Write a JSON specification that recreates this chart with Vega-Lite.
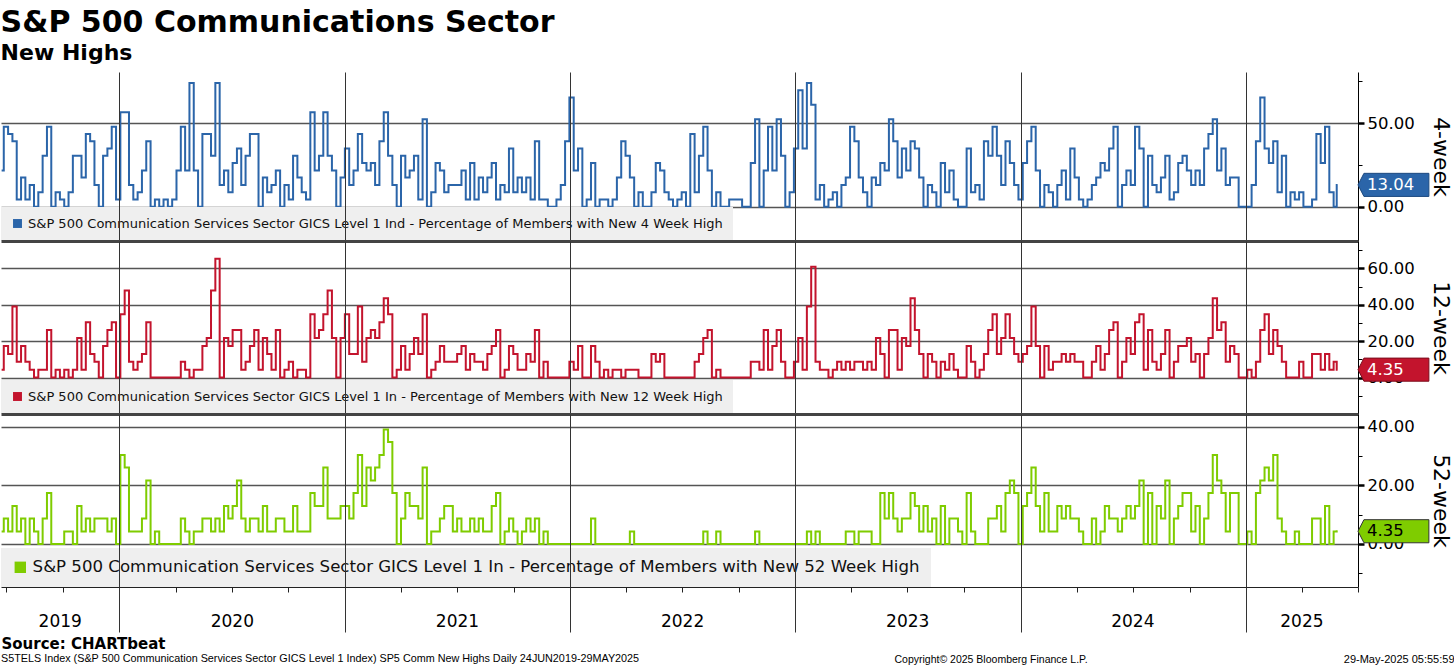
{
"$schema":"https://vega.github.io/schema/vega-lite/v6.json",
"padding":{"top":8,"left":-3,"right":0,"bottom":0},
"background":"white",
"spacing":0,
"bounds":"flush",
"resolve":{"scale":{"color":"independent"},"legend":{"color":"independent"}},
"config":{"view":{"stroke":null},"font":"DejaVu Sans","axis":{"labelFont":"DejaVu Sans","titleFont":"DejaVu Sans"},"legend":{"labelFont":"DejaVu Sans"}},
"datasets":{
"years":[{"y":"2019","m":"2019-09-27"},{"y":"2020","m":"2020-07-02"},{"y":"2021","m":"2021-07-02"},{"y":"2022","m":"2022-07-02"},{"y":"2023","m":"2023-07-02"},{"y":"2024","m":"2024-07-01"},{"y":"2025","m":"2025-04-01"}],
"s":[
{"d":"2019-06-24","a":21.7,"b":4.3,"c":4.3},
{"d":"2019-07-01","a":47.8,"b":17.4,"c":8.7},
{"d":"2019-07-08","a":43.5,"b":13,"c":4.3},
{"d":"2019-07-15","a":39.1,"b":39.1,"c":13},
{"d":"2019-07-22","a":4.3,"b":8.7,"c":4.3},
{"d":"2019-07-29","a":17.4,"b":17.4,"c":8.7},
{"d":"2019-08-05","a":4.3,"b":8.7,"c":0},
{"d":"2019-08-12","a":13,"b":4.3,"c":8.7},
{"d":"2019-08-19","a":0,"b":0,"c":4.3},
{"d":"2019-08-26","a":8.7,"b":4.3,"c":0},
{"d":"2019-09-02","a":30.4,"b":4.3,"c":8.7},
{"d":"2019-09-09","a":47.8,"b":26.1,"c":17.4},
{"d":"2019-09-16","a":0,"b":0,"c":0},
{"d":"2019-09-23","a":8.7,"b":4.3,"c":0},
{"d":"2019-09-30","a":4.3,"b":0,"c":0},
{"d":"2019-10-07","a":0,"b":4.3,"c":4.3},
{"d":"2019-10-14","a":8.7,"b":0,"c":4.3},
{"d":"2019-10-21","a":30.4,"b":4.3,"c":0},
{"d":"2019-10-28","a":30.4,"b":21.7,"c":13},
{"d":"2019-11-04","a":17.4,"b":4.3,"c":4.3},
{"d":"2019-11-11","a":43.5,"b":30.4,"c":8.7},
{"d":"2019-11-18","a":39.1,"b":13,"c":4.3},
{"d":"2019-11-25","a":13,"b":8.7,"c":8.7},
{"d":"2019-12-02","a":0,"b":0,"c":8.7},
{"d":"2019-12-09","a":30.4,"b":17.4,"c":8.7},
{"d":"2019-12-16","a":34.8,"b":26.1,"c":4.3},
{"d":"2019-12-23","a":47.8,"b":30.4,"c":8.7},
{"d":"2019-12-30","a":4.3,"b":0,"c":0},
{"d":"2020-01-06","a":56.5,"b":34.8,"c":30.4},
{"d":"2020-01-13","a":56.5,"b":47.8,"c":26.1},
{"d":"2020-01-20","a":13,"b":8.7,"c":4.3},
{"d":"2020-01-27","a":4.3,"b":4.3,"c":4.3},
{"d":"2020-02-03","a":8.7,"b":8.7,"c":4.3},
{"d":"2020-02-10","a":21.7,"b":13,"c":8.7},
{"d":"2020-02-17","a":39.1,"b":30.4,"c":21.7},
{"d":"2020-02-24","a":0,"b":0,"c":0},
{"d":"2020-03-02","a":4.3,"b":0,"c":4.3},
{"d":"2020-03-09","a":0,"b":0,"c":0},
{"d":"2020-03-16","a":4.3,"b":0,"c":0},
{"d":"2020-03-23","a":0,"b":0,"c":0},
{"d":"2020-03-30","a":4.3,"b":0,"c":0},
{"d":"2020-04-06","a":21.7,"b":0,"c":0},
{"d":"2020-04-13","a":47.8,"b":8.7,"c":8.7},
{"d":"2020-04-20","a":21.7,"b":4.3,"c":4.3},
{"d":"2020-04-27","a":73.9,"b":0,"c":0},
{"d":"2020-05-04","a":21.7,"b":4.3,"c":4.3},
{"d":"2020-05-11","a":0,"b":4.3,"c":4.3},
{"d":"2020-05-18","a":43.5,"b":17.4,"c":8.7},
{"d":"2020-05-25","a":43.5,"b":21.7,"c":8.7},
{"d":"2020-06-01","a":30.4,"b":47.8,"c":4.3},
{"d":"2020-06-08","a":73.9,"b":65.2,"c":8.7},
{"d":"2020-06-15","a":13,"b":0,"c":4.3},
{"d":"2020-06-22","a":21.7,"b":21.7,"c":13},
{"d":"2020-06-29","a":8.7,"b":17.4,"c":8.7},
{"d":"2020-07-06","a":26.1,"b":26.1,"c":13},
{"d":"2020-07-13","a":34.8,"b":26.1,"c":21.7},
{"d":"2020-07-20","a":13,"b":4.3,"c":8.7},
{"d":"2020-07-27","a":30.4,"b":8.7,"c":4.3},
{"d":"2020-08-03","a":43.5,"b":17.4,"c":8.7},
{"d":"2020-08-10","a":43.5,"b":26.1,"c":8.7},
{"d":"2020-08-17","a":0,"b":4.3,"c":4.3},
{"d":"2020-08-24","a":17.4,"b":21.7,"c":13},
{"d":"2020-08-31","a":8.7,"b":13,"c":4.3},
{"d":"2020-09-07","a":13,"b":4.3,"c":4.3},
{"d":"2020-09-14","a":21.7,"b":26.1,"c":8.7},
{"d":"2020-09-21","a":0,"b":0,"c":8.7},
{"d":"2020-09-28","a":13,"b":4.3,"c":4.3},
{"d":"2020-10-05","a":4.3,"b":8.7,"c":4.3},
{"d":"2020-10-12","a":30.4,"b":0,"c":13},
{"d":"2020-10-19","a":17.4,"b":4.3,"c":4.3},
{"d":"2020-10-26","a":8.7,"b":4.3,"c":4.3},
{"d":"2020-11-02","a":4.3,"b":0,"c":4.3},
{"d":"2020-11-09","a":56.5,"b":34.8,"c":17.4},
{"d":"2020-11-16","a":21.7,"b":21.7,"c":13},
{"d":"2020-11-23","a":30.4,"b":26.1,"c":13},
{"d":"2020-11-30","a":56.5,"b":34.8,"c":26.1},
{"d":"2020-12-07","a":30.4,"b":47.8,"c":8.7},
{"d":"2020-12-14","a":21.7,"b":21.7,"c":8.7},
{"d":"2020-12-21","a":0,"b":0,"c":8.7},
{"d":"2020-12-28","a":17.4,"b":21.7,"c":13},
{"d":"2021-01-04","a":34.8,"b":34.8,"c":13},
{"d":"2021-01-11","a":13,"b":13,"c":8.7},
{"d":"2021-01-18","a":21.7,"b":13,"c":17.4},
{"d":"2021-01-25","a":43.5,"b":39.1,"c":30.4},
{"d":"2021-02-01","a":26.1,"b":8.7,"c":13},
{"d":"2021-02-08","a":21.7,"b":21.7,"c":26.1},
{"d":"2021-02-15","a":26.1,"b":26.1,"c":21.7},
{"d":"2021-02-22","a":13,"b":21.7,"c":26.1},
{"d":"2021-03-01","a":39.1,"b":30.4,"c":30.4},
{"d":"2021-03-08","a":56.5,"b":43.5,"c":39.1},
{"d":"2021-03-15","a":30.4,"b":34.8,"c":34.8},
{"d":"2021-03-22","a":13,"b":0,"c":17.4},
{"d":"2021-03-29","a":0,"b":4.3,"c":0},
{"d":"2021-04-05","a":30.4,"b":17.4,"c":8.7},
{"d":"2021-04-12","a":17.4,"b":4.3,"c":17.4},
{"d":"2021-04-19","a":21.7,"b":13,"c":13},
{"d":"2021-04-26","a":30.4,"b":21.7,"c":13},
{"d":"2021-05-03","a":4.3,"b":13,"c":8.7},
{"d":"2021-05-10","a":52.2,"b":34.8,"c":26.1},
{"d":"2021-05-17","a":0,"b":0,"c":0},
{"d":"2021-05-24","a":8.7,"b":4.3,"c":4.3},
{"d":"2021-05-31","a":26.1,"b":8.7,"c":4.3},
{"d":"2021-06-07","a":21.7,"b":17.4,"c":8.7},
{"d":"2021-06-14","a":8.7,"b":8.7,"c":13},
{"d":"2021-06-21","a":13,"b":8.7,"c":13},
{"d":"2021-06-28","a":13,"b":8.7,"c":4.3},
{"d":"2021-07-05","a":13,"b":13,"c":8.7},
{"d":"2021-07-12","a":21.7,"b":17.4,"c":4.3},
{"d":"2021-07-19","a":4.3,"b":4.3,"c":4.3},
{"d":"2021-07-26","a":26.1,"b":13,"c":8.7},
{"d":"2021-08-02","a":4.3,"b":8.7,"c":4.3},
{"d":"2021-08-09","a":17.4,"b":8.7,"c":8.7},
{"d":"2021-08-16","a":8.7,"b":4.3,"c":4.3},
{"d":"2021-08-23","a":17.4,"b":13,"c":4.3},
{"d":"2021-08-30","a":26.1,"b":17.4,"c":13},
{"d":"2021-09-06","a":4.3,"b":26.1,"c":17.4},
{"d":"2021-09-13","a":13,"b":0,"c":0},
{"d":"2021-09-20","a":8.7,"b":4.3,"c":4.3},
{"d":"2021-09-27","a":34.8,"b":17.4,"c":8.7},
{"d":"2021-10-04","a":8.7,"b":13,"c":4.3},
{"d":"2021-10-11","a":17.4,"b":4.3,"c":0},
{"d":"2021-10-18","a":8.7,"b":4.3,"c":4.3},
{"d":"2021-10-25","a":17.4,"b":13,"c":8.7},
{"d":"2021-11-01","a":4.3,"b":8.7,"c":4.3},
{"d":"2021-11-08","a":39.1,"b":26.1,"c":8.7},
{"d":"2021-11-15","a":4.3,"b":0,"c":0},
{"d":"2021-11-22","a":4.3,"b":8.7,"c":4.3},
{"d":"2021-11-29","a":0,"b":0,"c":0},
{"d":"2021-12-06","a":0,"b":0,"c":0},
{"d":"2021-12-13","a":4.3,"b":0,"c":0},
{"d":"2021-12-20","a":13,"b":0,"c":0},
{"d":"2021-12-27","a":39.1,"b":0,"c":0},
{"d":"2022-01-03","a":65.2,"b":8.7,"c":0},
{"d":"2022-01-10","a":21.7,"b":4.3,"c":0},
{"d":"2022-01-17","a":34.8,"b":17.4,"c":0},
{"d":"2022-01-24","a":0,"b":0,"c":0},
{"d":"2022-01-31","a":4.3,"b":0,"c":0},
{"d":"2022-02-07","a":26.1,"b":17.4,"c":8.7},
{"d":"2022-02-14","a":0,"b":8.7,"c":0},
{"d":"2022-02-21","a":4.3,"b":0,"c":0},
{"d":"2022-02-28","a":4.3,"b":4.3,"c":0},
{"d":"2022-03-07","a":0,"b":0,"c":0},
{"d":"2022-03-14","a":4.3,"b":4.3,"c":0},
{"d":"2022-03-21","a":17.4,"b":4.3,"c":0},
{"d":"2022-03-28","a":39.1,"b":0,"c":0},
{"d":"2022-04-04","a":30.4,"b":4.3,"c":0},
{"d":"2022-04-11","a":17.4,"b":4.3,"c":4.3},
{"d":"2022-04-18","a":0,"b":4.3,"c":0},
{"d":"2022-04-25","a":8.7,"b":0,"c":0},
{"d":"2022-05-02","a":0,"b":0,"c":0},
{"d":"2022-05-09","a":0,"b":0,"c":0},
{"d":"2022-05-16","a":8.7,"b":13,"c":0},
{"d":"2022-05-23","a":26.1,"b":8.7,"c":0},
{"d":"2022-05-30","a":21.7,"b":13,"c":0},
{"d":"2022-06-06","a":8.7,"b":0,"c":0},
{"d":"2022-06-13","a":4.3,"b":0,"c":0},
{"d":"2022-06-20","a":0,"b":0,"c":0},
{"d":"2022-06-27","a":4.3,"b":0,"c":0},
{"d":"2022-07-04","a":8.7,"b":0,"c":0},
{"d":"2022-07-11","a":0,"b":0,"c":0},
{"d":"2022-07-18","a":43.5,"b":0,"c":0},
{"d":"2022-07-25","a":8.7,"b":8.7,"c":0},
{"d":"2022-08-01","a":30.4,"b":13,"c":0},
{"d":"2022-08-08","a":47.8,"b":21.7,"c":4.3},
{"d":"2022-08-15","a":21.7,"b":26.1,"c":0},
{"d":"2022-08-22","a":0,"b":0,"c":0},
{"d":"2022-08-29","a":8.7,"b":4.3,"c":4.3},
{"d":"2022-09-05","a":0,"b":0,"c":0},
{"d":"2022-09-12","a":0,"b":0,"c":0},
{"d":"2022-09-19","a":4.3,"b":0,"c":0},
{"d":"2022-09-26","a":4.3,"b":0,"c":0},
{"d":"2022-10-03","a":4.3,"b":0,"c":0},
{"d":"2022-10-10","a":0,"b":0,"c":0},
{"d":"2022-10-17","a":0,"b":0,"c":0},
{"d":"2022-10-24","a":26.1,"b":8.7,"c":0},
{"d":"2022-10-31","a":52.2,"b":8.7,"c":4.3},
{"d":"2022-11-07","a":0,"b":4.3,"c":0},
{"d":"2022-11-14","a":21.7,"b":26.1,"c":0},
{"d":"2022-11-21","a":47.8,"b":4.3,"c":0},
{"d":"2022-11-28","a":21.7,"b":17.4,"c":0},
{"d":"2022-12-05","a":52.2,"b":26.1,"c":0},
{"d":"2022-12-12","a":30.4,"b":8.7,"c":0},
{"d":"2022-12-19","a":0,"b":0,"c":0},
{"d":"2022-12-26","a":8.7,"b":0,"c":0},
{"d":"2023-01-02","a":34.8,"b":8.7,"c":0},
{"d":"2023-01-09","a":69.6,"b":21.7,"c":0},
{"d":"2023-01-16","a":34.8,"b":4.3,"c":0},
{"d":"2023-01-23","a":73.9,"b":39.1,"c":4.3},
{"d":"2023-01-30","a":60.9,"b":60.9,"c":0},
{"d":"2023-02-06","a":4.3,"b":8.7,"c":4.3},
{"d":"2023-02-13","a":13,"b":4.3,"c":0},
{"d":"2023-02-20","a":0,"b":4.3,"c":0},
{"d":"2023-02-27","a":4.3,"b":0,"c":0},
{"d":"2023-03-06","a":8.7,"b":4.3,"c":0},
{"d":"2023-03-13","a":0,"b":8.7,"c":0},
{"d":"2023-03-20","a":13,"b":4.3,"c":0},
{"d":"2023-03-27","a":17.4,"b":8.7,"c":4.3},
{"d":"2023-04-03","a":47.8,"b":4.3,"c":4.3},
{"d":"2023-04-10","a":39.1,"b":8.7,"c":0},
{"d":"2023-04-17","a":17.4,"b":8.7,"c":4.3},
{"d":"2023-04-24","a":8.7,"b":4.3,"c":4.3},
{"d":"2023-05-01","a":0,"b":8.7,"c":4.3},
{"d":"2023-05-08","a":17.4,"b":4.3,"c":0},
{"d":"2023-05-15","a":13,"b":21.7,"c":0},
{"d":"2023-05-22","a":26.1,"b":13,"c":17.4},
{"d":"2023-05-29","a":21.7,"b":0,"c":8.7},
{"d":"2023-06-05","a":52.2,"b":26.1,"c":17.4},
{"d":"2023-06-12","a":39.1,"b":26.1,"c":8.7},
{"d":"2023-06-19","a":17.4,"b":4.3,"c":4.3},
{"d":"2023-06-26","a":34.8,"b":21.7,"c":8.7},
{"d":"2023-07-03","a":21.7,"b":17.4,"c":8.7},
{"d":"2023-07-10","a":39.1,"b":43.5,"c":17.4},
{"d":"2023-07-17","a":34.8,"b":26.1,"c":13},
{"d":"2023-07-24","a":17.4,"b":13,"c":4.3},
{"d":"2023-07-31","a":0,"b":0,"c":13},
{"d":"2023-08-07","a":13,"b":13,"c":4.3},
{"d":"2023-08-14","a":8.7,"b":8.7,"c":8.7},
{"d":"2023-08-21","a":0,"b":0,"c":0},
{"d":"2023-08-28","a":26.1,"b":8.7,"c":13},
{"d":"2023-09-04","a":8.7,"b":4.3,"c":0},
{"d":"2023-09-11","a":21.7,"b":13,"c":8.7},
{"d":"2023-09-18","a":4.3,"b":4.3,"c":8.7},
{"d":"2023-09-25","a":0,"b":0,"c":4.3},
{"d":"2023-10-02","a":0,"b":0,"c":0},
{"d":"2023-10-09","a":34.8,"b":17.4,"c":17.4},
{"d":"2023-10-16","a":8.7,"b":8.7,"c":4.3},
{"d":"2023-10-23","a":13,"b":0,"c":0},
{"d":"2023-10-30","a":4.3,"b":4.3,"c":0},
{"d":"2023-11-06","a":39.1,"b":13,"c":0},
{"d":"2023-11-13","a":30.4,"b":26.1,"c":8.7},
{"d":"2023-11-20","a":47.8,"b":34.8,"c":8.7},
{"d":"2023-11-27","a":30.4,"b":13,"c":13},
{"d":"2023-12-04","a":13,"b":21.7,"c":4.3},
{"d":"2023-12-11","a":39.1,"b":34.8,"c":17.4},
{"d":"2023-12-18","a":26.1,"b":21.7,"c":21.7},
{"d":"2023-12-25","a":13,"b":13,"c":17.4},
{"d":"2024-01-01","a":4.3,"b":8.7,"c":0},
{"d":"2024-01-08","a":26.1,"b":13,"c":13},
{"d":"2024-01-15","a":39.1,"b":17.4,"c":17.4},
{"d":"2024-01-22","a":47.8,"b":39.1,"c":26.1},
{"d":"2024-01-29","a":21.7,"b":17.4,"c":13},
{"d":"2024-02-05","a":0,"b":0,"c":4.3},
{"d":"2024-02-12","a":13,"b":17.4,"c":17.4},
{"d":"2024-02-19","a":8.7,"b":4.3,"c":4.3},
{"d":"2024-02-26","a":0,"b":8.7,"c":4.3},
{"d":"2024-03-04","a":13,"b":8.7,"c":13},
{"d":"2024-03-11","a":21.7,"b":13,"c":8.7},
{"d":"2024-03-18","a":4.3,"b":8.7,"c":13},
{"d":"2024-03-25","a":34.8,"b":13,"c":8.7},
{"d":"2024-04-01","a":17.4,"b":8.7,"c":8.7},
{"d":"2024-04-08","a":4.3,"b":8.7,"c":4.3},
{"d":"2024-04-15","a":0,"b":0,"c":0},
{"d":"2024-04-22","a":4.3,"b":0,"c":0},
{"d":"2024-04-29","a":13,"b":8.7,"c":8.7},
{"d":"2024-05-06","a":17.4,"b":17.4,"c":0},
{"d":"2024-05-13","a":26.1,"b":4.3,"c":4.3},
{"d":"2024-05-20","a":21.7,"b":13,"c":13},
{"d":"2024-05-27","a":34.8,"b":26.1,"c":8.7},
{"d":"2024-06-03","a":47.8,"b":30.4,"c":8.7},
{"d":"2024-06-10","a":0,"b":0,"c":4.3},
{"d":"2024-06-17","a":13,"b":8.7,"c":8.7},
{"d":"2024-06-24","a":21.7,"b":21.7,"c":13},
{"d":"2024-07-01","a":13,"b":13,"c":8.7},
{"d":"2024-07-08","a":47.8,"b":30.4,"c":13},
{"d":"2024-07-15","a":34.8,"b":34.8,"c":21.7},
{"d":"2024-07-22","a":0,"b":4.3,"c":0},
{"d":"2024-07-29","a":30.4,"b":26.1,"c":17.4},
{"d":"2024-08-05","a":13,"b":8.7,"c":0},
{"d":"2024-08-12","a":8.7,"b":4.3,"c":13},
{"d":"2024-08-19","a":17.4,"b":13,"c":8.7},
{"d":"2024-08-26","a":30.4,"b":26.1,"c":21.7},
{"d":"2024-09-02","a":4.3,"b":0,"c":0},
{"d":"2024-09-09","a":8.7,"b":8.7,"c":8.7},
{"d":"2024-09-16","a":26.1,"b":17.4,"c":13},
{"d":"2024-09-23","a":30.4,"b":17.4,"c":17.4},
{"d":"2024-09-30","a":21.7,"b":21.7,"c":17.4},
{"d":"2024-10-07","a":13,"b":8.7,"c":4.3},
{"d":"2024-10-14","a":21.7,"b":13,"c":13},
{"d":"2024-10-21","a":13,"b":0,"c":0},
{"d":"2024-10-28","a":34.8,"b":13,"c":8.7},
{"d":"2024-11-04","a":43.5,"b":21.7,"c":17.4},
{"d":"2024-11-11","a":52.2,"b":43.5,"c":30.4},
{"d":"2024-11-18","a":21.7,"b":26.1,"c":21.7},
{"d":"2024-11-25","a":34.8,"b":30.4,"c":17.4},
{"d":"2024-12-02","a":13,"b":8.7,"c":4.3},
{"d":"2024-12-09","a":17.4,"b":17.4,"c":17.4},
{"d":"2024-12-16","a":17.4,"b":13,"c":17.4},
{"d":"2024-12-23","a":0,"b":0,"c":0},
{"d":"2024-12-30","a":0,"b":0,"c":0},
{"d":"2025-01-06","a":0,"b":4.3,"c":4.3},
{"d":"2025-01-13","a":13,"b":0,"c":0},
{"d":"2025-01-20","a":39.1,"b":8.7,"c":17.4},
{"d":"2025-01-27","a":65.2,"b":26.1,"c":21.7},
{"d":"2025-02-03","a":34.8,"b":34.8,"c":26.1},
{"d":"2025-02-10","a":26.1,"b":13,"c":21.7},
{"d":"2025-02-17","a":39.1,"b":26.1,"c":30.4},
{"d":"2025-02-24","a":8.7,"b":17.4,"c":8.7},
{"d":"2025-03-03","a":30.4,"b":8.7,"c":4.3},
{"d":"2025-03-10","a":0,"b":0,"c":0},
{"d":"2025-03-17","a":8.7,"b":0,"c":0},
{"d":"2025-03-24","a":4.3,"b":0,"c":4.3},
{"d":"2025-03-31","a":8.7,"b":8.7,"c":0},
{"d":"2025-04-07","a":0,"b":0,"c":0},
{"d":"2025-04-14","a":0,"b":0,"c":0},
{"d":"2025-04-21","a":4.3,"b":13,"c":8.7},
{"d":"2025-04-28","a":43.5,"b":13,"c":8.7},
{"d":"2025-05-05","a":26.1,"b":4.3,"c":0},
{"d":"2025-05-12","a":47.8,"b":13,"c":13},
{"d":"2025-05-19","a":8.7,"b":4.3,"c":0},
{"d":"2025-05-26","a":0,"b":8.7,"c":4.3},
{"d":"2025-05-29","a":13.04,"b":4.35,"c":4.35}
]},
"vconcat":[
{
"width":1357,"height":169,
"title":{"text":"S&P 500 Communications Sector","subtitle":"New Highs","anchor":"start","dx":3,"font":"DejaVu Sans","fontSize":30,"fontWeight":"bold","color":"#000","subtitleFont":"DejaVu Sans","subtitleFontSize":22,"subtitleFontWeight":"bold","subtitleColor":"#000","subtitlePadding":5,"offset":8},
"data":{"name":"s"},
"resolve":{"axis":{"y":"independent"}},
"layer":[
{"mark":{"type":"line","interpolate":"step","color":"#2b65a9","strokeWidth":2},
"encoding":{
"x":{"field":"d","type":"temporal","scale":{"domain":[{"year":2019,"month":6,"date":23},{"year":2025,"month":7,"date":1}]},
"axis":{"orient":"bottom","values":[{"year":2020,"month":1,"date":1},{"year":2021,"month":1,"date":1},{"year":2022,"month":1,"date":1},{"year":2023,"month":1,"date":1},{"year":2024,"month":1,"date":1},{"year":2025,"month":1,"date":1}],"grid":true,"gridColor":"#333","gridWidth":1,"domain":true,"domainColor":"#444","domainWidth":3,"ticks":false,"labels":false,"title":null,"zindex":1}},
"y":{"field":"a","type":"quantitative","scale":{"domain":[-20.5,80.5],"nice":false,"zero":false},
"axis":{"orient":"right","values":[0,50],"format":".2f","title":"4-week","titleFontSize":22,"titleFontWeight":"normal","titleColor":"#000","titlePadding":14,"labelOverlap":false,"labelFontSize":16.5,"labelColor":"#000","labelPadding":3,"tickColor":"#000","tickSize":6,"tickWidth":2.5,"grid":true,"gridColor":"#555","gridWidth":1.5,"domainColor":"#000","domainWidth":1}}}},
{"transform":[{"filter":"false"}],"mark":{"type":"square","filled":true,"opacity":1},
"encoding":{
"y":{"field":"a","type":"quantitative","axis":{"orient":"right","values":[25,75],"labels":false,"grid":false,"domain":false,"ticks":true,"tickSize":4,"tickWidth":1,"tickColor":"#000","title":null}},
"color":{"datum":"S&P 500 Communication Services Sector GICS Level 1 Ind - Percentage of Members with New 4 Week High","scale":{"range":["#2b65a9"]},
"legend":{"orient":"bottom-left","offset":0,"title":null,"fillColor":"#efefef","padding":10,"symbolType":"square","symbolSize":80,"symbolStrokeWidth":0,"labelFontSize":13,"labelColor":"#111","labelLimit":2000,"labelOffset":4}}}},
{"transform":[{"filter":"datum.a == 13.04"}],"mark":{"type":"point","shape":"M0,0L0.34,-0.66L4.05,-0.66L4.05,0.66L0.34,0.66Z","size":1225,"filled":true,"fill":"#2b65a9","opacity":1,"stroke":"#1d4a80","strokeWidth":1},
"encoding":{"x":{"value":"width"},"y":{"field":"a","type":"quantitative","axis":null}}},
{"transform":[{"filter":"datum.a == 13.04"}],"mark":{"type":"text","dx":9,"align":"left","baseline":"middle","font":"DejaVu Sans","fontSize":16.5,"color":"#fff"},
"encoding":{"x":{"value":"width"},"y":{"field":"a","type":"quantitative","axis":null},"text":{"field":"a","type":"quantitative","format":".2f"}}}
]},
{
"width":1357,"height":173,
"data":{"name":"s"},
"resolve":{"axis":{"y":"independent"}},
"layer":[
{"mark":{"type":"line","interpolate":"step","color":"#c3142d","strokeWidth":2},
"encoding":{
"x":{"field":"d","type":"temporal","scale":{"domain":[{"year":2019,"month":6,"date":23},{"year":2025,"month":7,"date":1}]},
"axis":{"orient":"bottom","values":[{"year":2020,"month":1,"date":1},{"year":2021,"month":1,"date":1},{"year":2022,"month":1,"date":1},{"year":2023,"month":1,"date":1},{"year":2024,"month":1,"date":1},{"year":2025,"month":1,"date":1}],"grid":true,"gridColor":"#333","gridWidth":1,"domain":true,"domainColor":"#444","domainWidth":3,"ticks":false,"labels":false,"zindex":1,
"title":"29-May-2025 05:55:59","titleX":1453,"titleY":245,"titleAlign":"right","titleBaseline":"middle","titleFont":"Liberation Sans","titleFontSize":11,"titleFontWeight":"normal","titleColor":"#000"}},
"y":{"field":"b","type":"quantitative","scale":{"domain":[-20,75],"nice":false,"zero":false},
"axis":{"orient":"right","values":[0,20,40,60],"format":".2f","title":"12-week","titleFontSize":22,"titleFontWeight":"normal","titleColor":"#000","titlePadding":14,"labelOverlap":false,"labelFontSize":16.5,"labelColor":"#000","labelPadding":3,"tickColor":"#000","tickSize":6,"tickWidth":2.5,"grid":true,"gridColor":"#555","gridWidth":1.5,"domainColor":"#000","domainWidth":1}}}},
{"transform":[{"filter":"false"}],"mark":{"type":"square","filled":true,"opacity":1},
"encoding":{
"y":{"field":"b","type":"quantitative","axis":{"orient":"right","values":[-10,10,30,50,70],"labels":false,"grid":false,"domain":false,"ticks":true,"tickSize":4,"tickWidth":1,"tickColor":"#000","title":null}},
"color":{"datum":"S&P 500 Communication Services Sector GICS Level 1 In - Percentage of Members with New 12 Week High","scale":{"range":["#c3142d"]},
"legend":{"orient":"bottom-left","offset":0,"title":null,"fillColor":"#efefef","padding":10,"symbolType":"square","symbolSize":80,"symbolStrokeWidth":0,"labelFontSize":13,"labelColor":"#111","labelLimit":2000,"labelOffset":4}}}},
{"transform":[{"filter":"datum.b == 4.35"}],"mark":{"type":"point","shape":"M0,0L0.34,-0.66L4.05,-0.66L4.05,0.66L0.34,0.66Z","size":1225,"filled":true,"fill":"#c3142d","opacity":1,"stroke":"#7a0c1c","strokeWidth":1},
"encoding":{"x":{"value":"width"},"y":{"field":"b","type":"quantitative","axis":null}}},
{"transform":[{"filter":"datum.b == 4.35"}],"mark":{"type":"text","dx":9,"align":"left","baseline":"middle","font":"DejaVu Sans","fontSize":16.5,"color":"#fff"},
"encoding":{"x":{"value":"width"},"y":{"field":"b","type":"quantitative","axis":null},"text":{"field":"b","type":"quantitative","format":".2f"}}}
]},
{
"width":1357,"height":173,
"data":{"name":"s"},
"resolve":{"axis":{"y":"independent"}},
"layer":[
{"mark":{"type":"line","interpolate":"step","color":"#7fcc00","strokeWidth":2},
"encoding":{
"x":{"field":"d","type":"temporal","scale":{"domain":[{"year":2019,"month":6,"date":23},{"year":2025,"month":7,"date":1}]},
"axis":{"orient":"bottom","values":[{"year":2019,"month":7,"date":1},{"year":2019,"month":10,"date":1},{"year":2020,"month":1,"date":1},{"year":2020,"month":4,"date":1},{"year":2020,"month":7,"date":1},{"year":2020,"month":10,"date":1},{"year":2021,"month":1,"date":1},{"year":2021,"month":4,"date":1},{"year":2021,"month":7,"date":1},{"year":2021,"month":10,"date":1},{"year":2022,"month":1,"date":1},{"year":2022,"month":4,"date":1},{"year":2022,"month":7,"date":1},{"year":2022,"month":10,"date":1},{"year":2023,"month":1,"date":1},{"year":2023,"month":4,"date":1},{"year":2023,"month":7,"date":1},{"year":2023,"month":10,"date":1},{"year":2024,"month":1,"date":1},{"year":2024,"month":4,"date":1},{"year":2024,"month":7,"date":1},{"year":2024,"month":10,"date":1},{"year":2025,"month":1,"date":1},{"year":2025,"month":4,"date":1},{"year":2025,"month":7,"date":1}],
"grid":true,"gridColor":"#333","gridWidth":1,"gridOpacity":{"condition":{"test":"month(datum.value) == 0","value":1},"value":0},"domain":true,"domainColor":"#222","domainWidth":1,"ticks":true,"tickSize":5,"tickColor":"#222","tickWidth":1,"labels":false,"zindex":1,
"title":"Copyright© 2025 Bloomberg Finance L.P.","titleX":893,"titleY":72,"titleAlign":"left","titleBaseline":"middle","titleFont":"Liberation Sans","titleFontSize":10.5,"titleFontWeight":"normal","titleColor":"#000"}},
"y":{"field":"c","type":"quantitative","scale":{"domain":[-14.7,44.4],"nice":false,"zero":false},
"axis":{"orient":"right","values":[0,20,40],"format":".2f","title":"52-week","titleFontSize":22,"titleFontWeight":"normal","titleColor":"#000","titlePadding":14,"labelOverlap":false,"labelFontSize":16.5,"labelColor":"#000","labelPadding":3,"tickColor":"#000","tickSize":6,"tickWidth":2.5,"grid":true,"gridColor":"#555","gridWidth":1.5,"domainColor":"#000","domainWidth":1}}}},
{"transform":[{"filter":"false"}],"mark":{"type":"square","filled":true,"opacity":1},
"encoding":{
"y":{"field":"c","type":"quantitative","axis":{"orient":"right","values":[-10,10,30],"labels":false,"grid":false,"domain":false,"ticks":true,"tickSize":4,"tickWidth":1,"tickColor":"#000","title":null}},
"color":{"datum":"S&P 500 Communication Services Sector GICS Level 1 In - Percentage of Members with New 52 Week High","scale":{"range":["#7fcc00"]},
"legend":{"orient":"bottom-left","offset":0,"title":null,"fillColor":"#efefef","padding":11,"symbolType":"square","symbolSize":130,"symbolStrokeWidth":0,"labelFontSize":16.6,"labelColor":"#111","labelLimit":2000,"labelOffset":4}}}},
{"transform":[{"filter":"datum.c == 4.35"}],"mark":{"type":"point","shape":"M0,0L0.34,-0.66L4.05,-0.66L4.05,0.66L0.34,0.66Z","size":1225,"filled":true,"fill":"#7fcc00","opacity":1,"stroke":"#333","strokeWidth":1},
"encoding":{"x":{"value":"width"},"y":{"field":"c","type":"quantitative","axis":null}}},
{"transform":[{"filter":"datum.c == 4.35"}],"mark":{"type":"text","dx":9,"align":"left","baseline":"middle","font":"DejaVu Sans","fontSize":16.5,"color":"#000"},
"encoding":{"x":{"value":"width"},"y":{"field":"c","type":"quantitative","axis":null},"text":{"field":"c","type":"quantitative","format":".2f"}}}
]},
{
"width":1357,"height":45,
"title":{"text":"S5TELS Index (S&P 500 Communication Services Sector GICS Level 1 Index) SP5 Comm New Highs  Daily 24JUN2019-29MAY2025","orient":"bottom","anchor":"start","font":"Liberation Sans","fontSize":10.8,"fontWeight":"normal","color":"#000","offset":2},
"data":{"name":"years"},
"mark":{"type":"text","font":"DejaVu Sans","fontSize":17,"color":"#000","dy":12},
"encoding":{
"x":{"field":"m","type":"temporal","scale":{"domain":[{"year":2019,"month":6,"date":23},{"year":2025,"month":7,"date":1}]},
"axis":{"orient":"bottom","values":[{"year":2020,"month":1,"date":1},{"year":2021,"month":1,"date":1},{"year":2022,"month":1,"date":1},{"year":2023,"month":1,"date":1},{"year":2024,"month":1,"date":1},{"year":2025,"month":1,"date":1}],"grid":true,"gridColor":"#333","gridWidth":1,"domain":false,"ticks":false,"labels":false,
"title":"Source: CHARTbeat","titleAnchor":"start","titleFont":"DejaVu Sans","titleFontSize":15,"titleFontWeight":"bold","titleColor":"#000","titlePadding":4}},
"text":{"field":"y","type":"nominal"}
}}
]
}
